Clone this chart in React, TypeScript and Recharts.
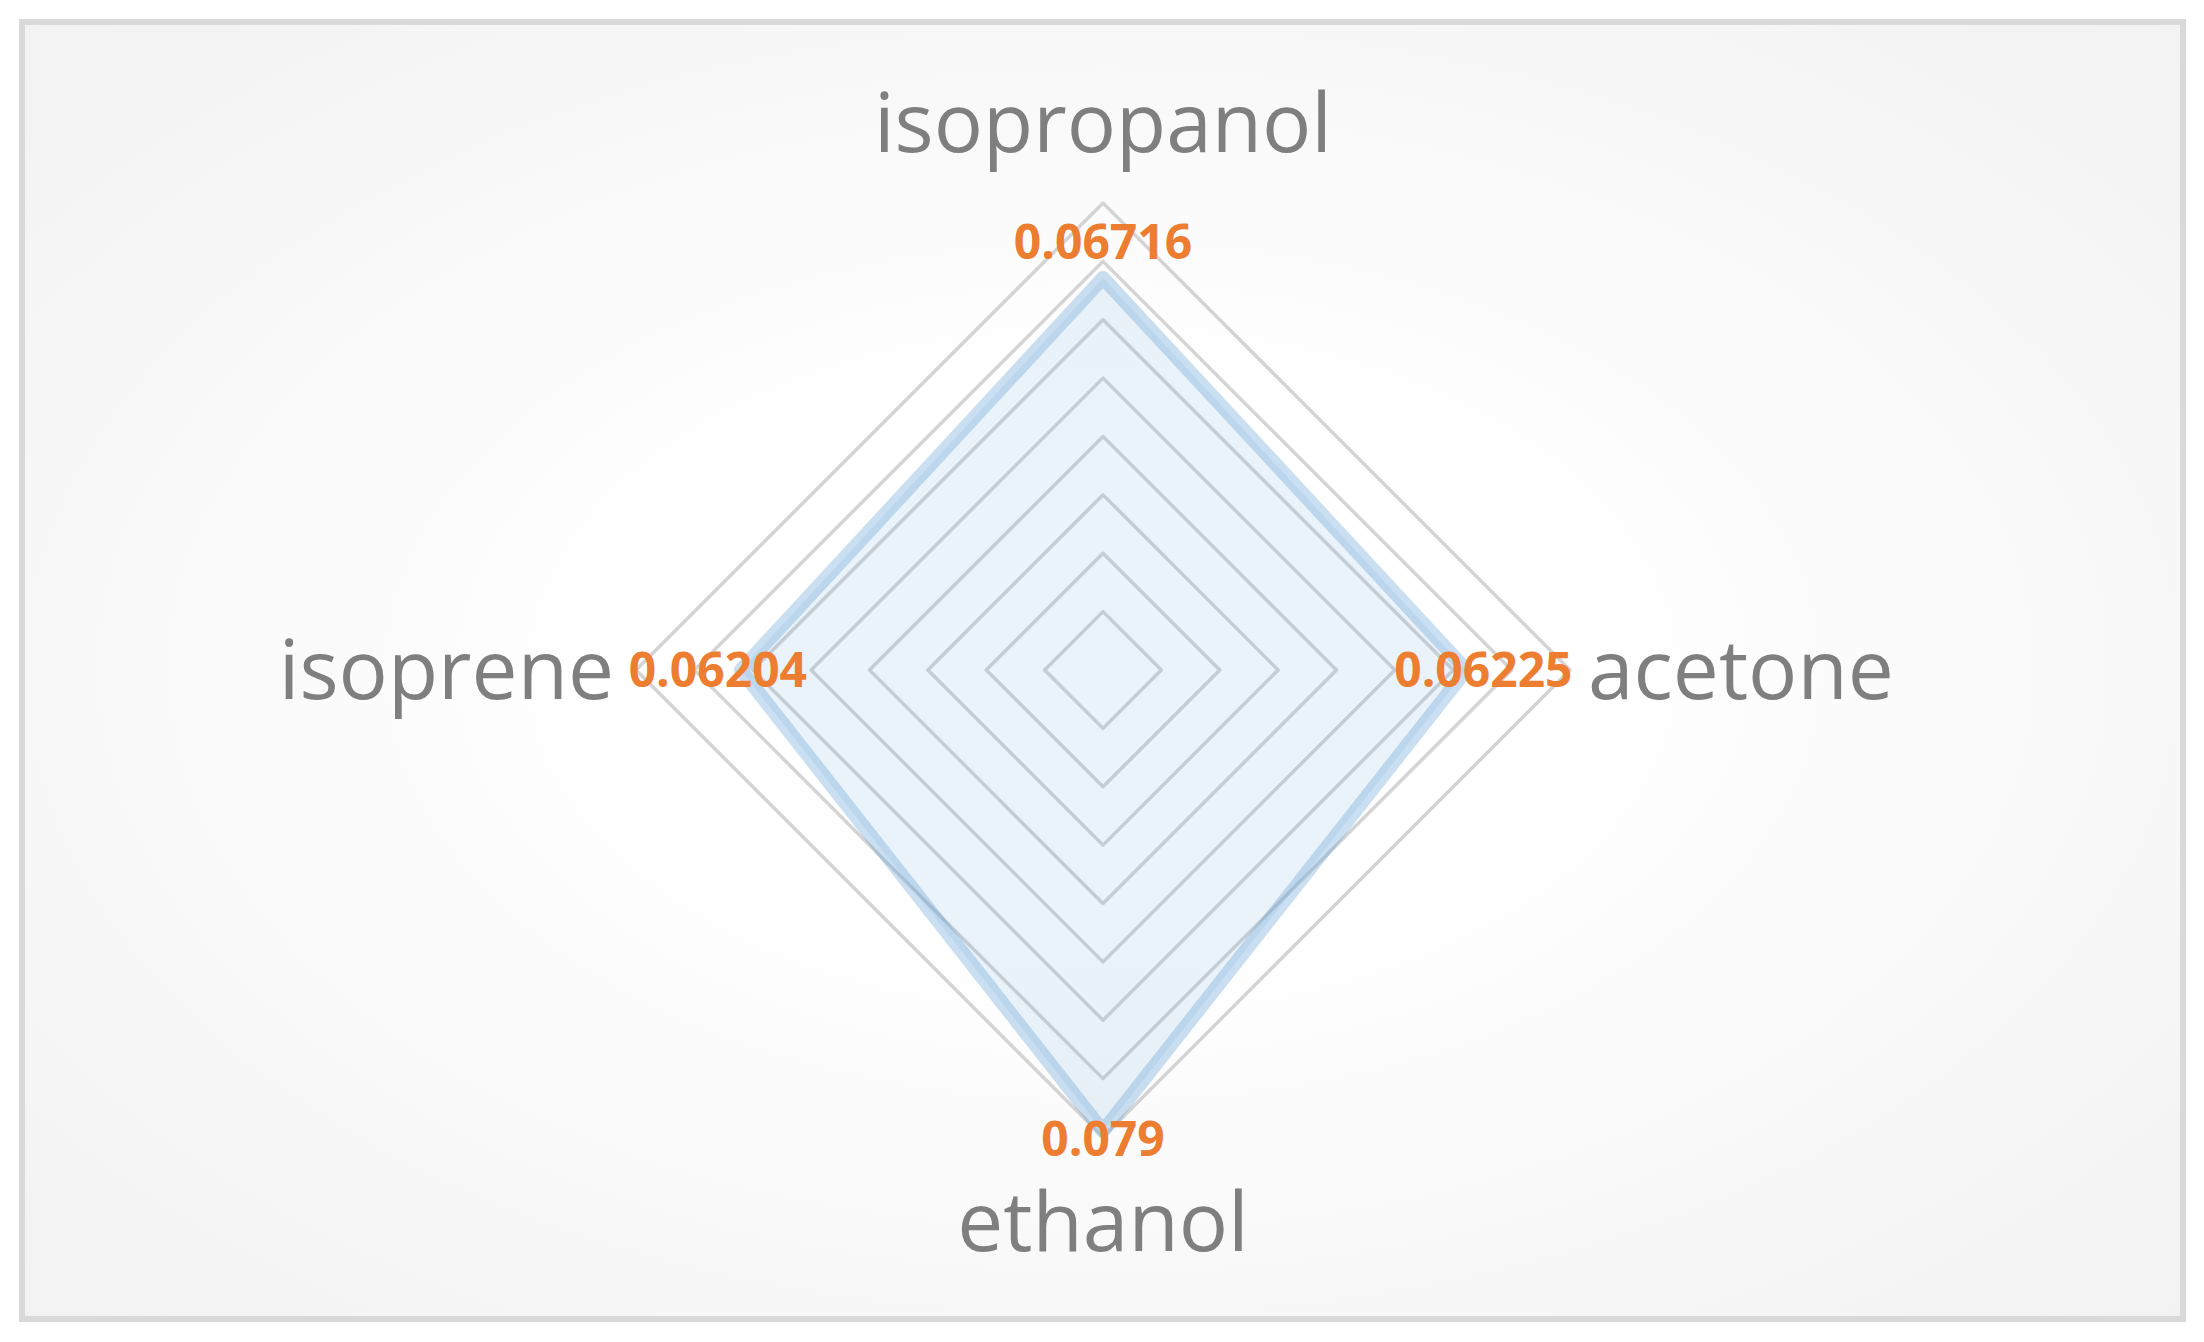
import { RadarChart, Radar, PolarGrid, PolarAngleAxis, PolarRadiusAxis } from "recharts"

const categories = ["isopropanol", "acetone", "ethanol", "isoprene"]
const values = [0.06716, 0.06225, 0.079, 0.06204]
const radiusDomain = [0, 0.08]
const ringValues = [0.01, 0.02, 0.03, 0.04, 0.05, 0.06, 0.07, 0.08]

const data = categories.map((name, i) => ({ name, value: values[i] }))

const W = 2188
const H = 1326
const CX = 1095
const CY = 662
const OUTER = 467

// grid rings follow the radius axis domain
const ringRadii = ringValues.map((v) => (v / radiusDomain[1]) * OUTER)
const spokeAngles = categories.map((_, i) => 90 - (i * 360) / categories.length)

const AxisTick = (props: any) => {
  const { x, y, textAnchor, payload } = props
  let dx = 0
  let dy = 0
  if (textAnchor === "middle") {
    dy = y < CY ? -43 : 106
  } else if (textAnchor === "start") {
    dx = 10
    dy = 29
  } else {
    dx = -14
    dy = 29
  }
  return (
    <text
      x={x + dx}
      y={y + dy}
      textAnchor={textAnchor}
      fontFamily="'Open Sans', sans-serif"
      fontSize={82}
      fill="#7f7f7f"
    >
      {payload.value}
    </text>
  )
}

const ValueLabel = (props: any) => {
  const { x, y, value } = props
  const ux = x - CX
  const uy = y - CY
  let lx = x
  let ly = y
  if (Math.abs(uy) > Math.abs(ux)) {
    ly = uy < 0 ? y - 36 : y + 8
  } else {
    lx = ux > 0 ? x + 17 : x - 23
  }
  return (
    <text
      x={lx}
      y={ly + 17}
      textAnchor="middle"
      fontFamily="'Open Sans', sans-serif"
      fontWeight="bold"
      fontSize={48}
      fill="#ed7d31"
    >
      {value}
    </text>
  )
}

export default function App() {
  return (
    <div style={{ position: "relative", width: W, height: H }}>
      <style>{`.recharts-polar-grid-concentric-polygon { stroke-width: 3.5px; stroke-linejoin: round; }`}</style>
      <div
        style={{
          position: "absolute",
          left: 11,
          top: 11,
          width: 2167,
          height: 1303,
          boxSizing: "border-box",
          border: "6px solid #d9d9d9",
          background: "radial-gradient(ellipse at center, #ffffff 0%, #ffffff 30%, #f2f2f2 100%)",
        }}
      />
      <div style={{ position: "absolute", left: 0, top: 0 }}>
        <RadarChart
          width={W}
          height={H}
          data={data}
          cx={CX}
          cy={CY}
          outerRadius={OUTER}
          margin={{ top: 0, right: 0, bottom: 0, left: 0 }}
        >
          <PolarGrid
            gridType="polygon"
            radialLines={false}
            polarRadius={ringRadii}
            polarAngles={spokeAngles}
            stroke="#d4d4d4"
            strokeWidth={3.5}
          />
          <PolarAngleAxis dataKey="name" tick={<AxisTick />} tickLine={false} axisLine={false} />
          <PolarRadiusAxis
            type="number"
            domain={radiusDomain}
            tickCount={9}
            tick={() => null}
            axisLine={false}
          />
          <Radar
            dataKey="value"
            stroke="#5b9bd5"
            strokeOpacity={0.32}
            strokeWidth={14}
            strokeLinejoin="round"
            fill="#5b9bd5"
            fillOpacity={0.12}
            isAnimationActive={false}
            label={<ValueLabel />}
          />
        </RadarChart>
      </div>
    </div>
  )
}
